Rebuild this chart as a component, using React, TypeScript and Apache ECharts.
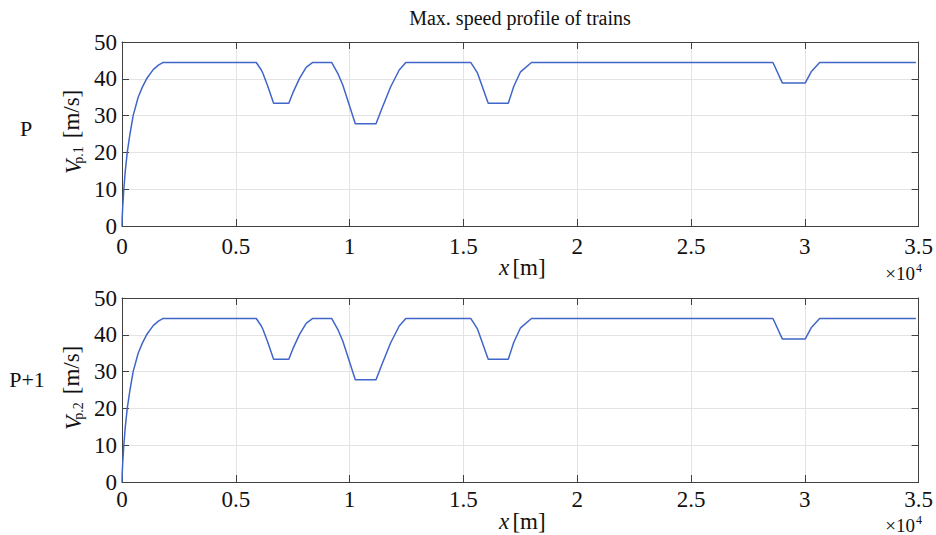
import React, { useEffect, useRef } from "react";
import * as echarts from "echarts";

// distance [m], max speed [m/s]
const distP: number[] = [
  0, 10, 30, 80, 145, 230, 350, 490, 710, 900, 1080, 1370, 1600, 1810,
  5900, 6120, 6190, 6410, 6660, 7330, 7500, 7800, 8090, 8380,
  9210, 9480, 9700, 10250, 11160, 11450, 11810, 12180, 12470,
  15320, 15610, 16090, 16970, 17210, 17510, 17990,
  28600, 29010, 30020, 30280, 30650, 34880,
];
const speedP: number[] = [
  0, 2.5, 5, 10, 15, 20, 25, 30, 35, 37.8, 40, 42.5, 43.7, 44.44,
  44.44, 42.4, 41.5, 37.9, 33.33, 33.33, 36.1, 40.1, 43.1, 44.44,
  44.44, 41.5, 38.3, 27.78, 27.78, 32.4, 37.9, 42.4, 44.44,
  44.44, 41.7, 33.33, 33.33, 37.9, 41.9, 44.44,
  44.44, 38.89, 38.89, 41.9, 44.44, 44.44,
];
const distP1: number[] = distP.slice();
const speedP1: number[] = speedP.slice();

const xTicks: string[] = ["0", "0.5", "1", "1.5", "2", "2.5", "3", "3.5"];
const titleText = "Max. speed profile of trains";
const rowLabels: string[] = ["P", "P+1"];
const subLabels: string[] = ["p.1", "p.2"];

const FF = "Liberation Serif, Times New Roman, serif";
const AX = "#404040";
const GRIDC = "#e3e3e3";
const LINE = "#3f66c8";
const TXT = "#111111";

function pairs(xs: number[], ys: number[]) {
  return xs.map((x, i) => [x, ys[i]]);
}

export default function App() {
  const ref = useRef<HTMLDivElement>(null);
  useEffect(() => {
    if (!ref.current) return;
    const chart = echarts.init(ref.current, undefined, { renderer: "svg" });
    const grids = [
      { left: 122, top: 42, width: 799, height: 184 },
      { left: 122, top: 298, width: 799, height: 184 },
    ];
    const xAxes: any[] = [];
    const yAxes: any[] = [];
    grids.forEach((_, g) => {
      xAxes.push({
        type: "value", gridIndex: g, position: "bottom", min: 0, max: 35000, interval: 5000,
        axisLine: { show: true, onZero: false, lineStyle: { color: AX, width: 1 } },
        axisTick: { show: true, inside: true, length: 7, lineStyle: { color: AX } },
        axisLabel: {
          show: true, margin: g === 0 ? 9 : 6, fontFamily: FF, fontSize: 23, color: TXT,
          formatter: (v: number) => xTicks[Math.round(v / 5000)] ?? "",
        },
        splitLine: { show: true, lineStyle: { color: GRIDC, width: 1 } },
      });
      xAxes.push({
        type: "value", gridIndex: g, position: "top", min: 0, max: 35000, interval: 5000,
        axisLine: { show: true, onZero: false, lineStyle: { color: AX, width: 1 } },
        axisTick: { show: true, inside: true, length: 7, lineStyle: { color: AX } },
        axisLabel: { show: false },
        splitLine: { show: false },
      });
      yAxes.push({
        type: "value", gridIndex: g, position: "left", min: 0, max: 50, interval: 10,
        axisLine: { show: true, onZero: false, lineStyle: { color: AX, width: 1 } },
        axisTick: { show: true, inside: true, length: 7, lineStyle: { color: AX } },
        axisLabel: { show: true, margin: 5, fontFamily: FF, fontSize: 23, color: TXT },
        splitLine: { show: true, lineStyle: { color: GRIDC, width: 1 } },
      });
      yAxes.push({
        type: "value", gridIndex: g, position: "right", min: 0, max: 50, interval: 10,
        axisLine: { show: true, onZero: false, lineStyle: { color: AX, width: 1 } },
        axisTick: { show: true, inside: true, length: 7, lineStyle: { color: AX } },
        axisLabel: { show: false },
        splitLine: { show: false },
      });
    });

    const txt = (x: number, y: number, text: string, size: number, opts: any = {}) => ({
      type: "text", x, y, rotation: opts.rotation ?? 0, silent: true,
      style: {
        text, fill: TXT, fontFamily: FF, fontSize: size,
        fontStyle: opts.italic ? "italic" : "normal",
        textAlign: opts.align ?? "center", textVerticalAlign: "middle",
        align: opts.align ?? "center", verticalAlign: "middle",
      },
    });

    const graphics: any[] = [txt(520, 18, titleText, 20)];
    const R = Math.PI / 2;
    // row labels
    graphics.push(txt(26, 128, rowLabels[0], 22));
    graphics.push(txt(27, 379, rowLabels[1], 22));
    [0, 256].forEach((dy, i) => {
      graphics.push(txt(73, 167 + dy, "V", 23, { rotation: R, italic: true }));
      graphics.push(txt(78, 155 + dy, subLabels[i], 14, { rotation: R }));
      graphics.push(txt(71, 114 + dy, "[m/s]", 23, { rotation: R }));
    });
    [0, 254].forEach((dy, i) => {
      graphics.push(txt(504, 267 + dy, "x", 23, { italic: true }));
      graphics.push(txt(529, 267 + dy, "[m]", 23));
      const yy = i === 0 ? 273 : 525;
      graphics.push(txt(915, yy, "×10", 19, { align: "right" }));
      graphics.push(txt(916, yy - 5, "4", 12, { align: "left" }));
    });

    chart.setOption({
      animation: false,
      backgroundColor: "#ffffff",
      grid: grids,
      xAxis: xAxes,
      yAxis: yAxes,
      graphic: { elements: graphics },
      series: [
        {
          type: "line", xAxisIndex: 0, yAxisIndex: 0, data: pairs(distP, speedP),
          showSymbol: false, symbol: "none", lineStyle: { color: LINE, width: 1.5 }, z: 5,
        },
        {
          type: "line", xAxisIndex: 2, yAxisIndex: 2, data: pairs(distP1, speedP1),
          showSymbol: false, symbol: "none", lineStyle: { color: LINE, width: 1.5 }, z: 5,
        },
      ],
    });
    return () => chart.dispose();
  }, []);
  return (
    <div
      ref={ref}
      style={{ position: "absolute", left: 0, top: 0, width: 936, height: 535 }}
    />
  );
}
